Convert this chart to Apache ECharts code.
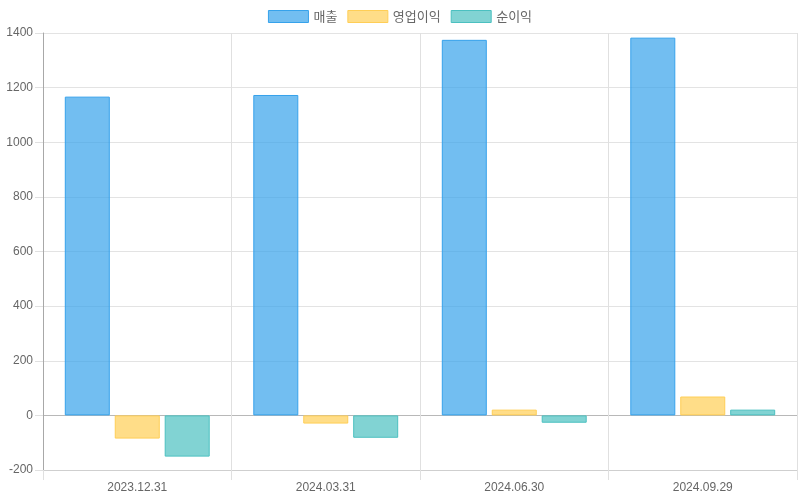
<!DOCTYPE html>
<html>
<head>
<meta charset="utf-8">
<script src="https://cdn.jsdelivr.net/npm/echarts@6/dist/echarts.min.js"></script>
<style>html,body{margin:0;padding:0;background:#fff}#c{width:800px;height:500px}</style>
</head>
<body>
<div id="c"></div>
<script>
const categories = ['2023.12.31', '2024.03.31', '2024.06.30', '2024.09.29'];
const seriesNames = ['매출', '영업이익', '순이익'];
const sales = [1167, 1173, 1375, 1383];
const operatingProfit = [-85, -30, 21, 69];
const netProfit = [-151, -82, -27, 21];
const yTicks = { min: -200, max: 1400, interval: 200 };

const fills = ['rgba(54,162,235,0.7)', 'rgba(255,206,86,0.7)', 'rgba(75,192,192,0.7)'];
const borders = ['rgb(54,162,235)', 'rgb(255,206,86)', 'rgb(75,192,192)'];
const values = [sales, operatingProfit, netProfit];

const chart = echarts.init(document.getElementById('c'));
chart.setOption({
  animation: false,
  textStyle: { fontFamily: 'Liberation Sans, Noto Sans CJK KR, sans-serif' },
  legend: {
    top: 5,
    left: 'center',
    itemWidth: 40,
    itemHeight: 12,
    itemGap: 10,
    icon: 'rect',
    itemStyle: { borderWidth: 1 },
    textStyle: { color: '#666', fontSize: 13, fontFamily: 'Noto Sans CJK KR, sans-serif' },
    data: seriesNames
  },
  grid: { left: 43, right: 3, top: 33, bottom: 30, containLabel: false },
  xAxis: {
    type: 'category',
    data: categories,
    boundaryGap: true,
    axisLine: { onZero: false, lineStyle: { color: '#cfcfcf' } },
    axisTick: { show: true, length: 10, lineStyle: { color: '#e0e0e0' } },
    axisLabel: { color: '#666', fontSize: 12, margin: 12 },
    splitLine: { show: true, lineStyle: { color: '#e0e0e0' } }
  },
  yAxis: {
    type: 'value',
    min: yTicks.min,
    max: yTicks.max,
    interval: yTicks.interval,
    axisLine: { show: true, lineStyle: { color: '#a8a8a8' } },
    axisTick: { show: true, length: 8, lineStyle: { color: '#e0e0e0' } },
    axisLabel: { color: '#666', fontSize: 12, margin: 10, formatter: v => String(v) },
    splitLine: { show: true, lineStyle: { color: ['#cfcfcf', '#b8b8b8', '#e3e3e3', '#e3e3e3', '#e3e3e3', '#e3e3e3', '#e3e3e3', '#e3e3e3', '#e3e3e3'] } }
  },
  series: seriesNames.map((name, i) => ({
    name,
    type: 'bar',
    data: values[i],
    barWidth: 45,
    barGap: '11%',
    itemStyle: { color: fills[i], borderColor: borders[i], borderWidth: 1 }
  }))
});
</script>
</body>
</html>
